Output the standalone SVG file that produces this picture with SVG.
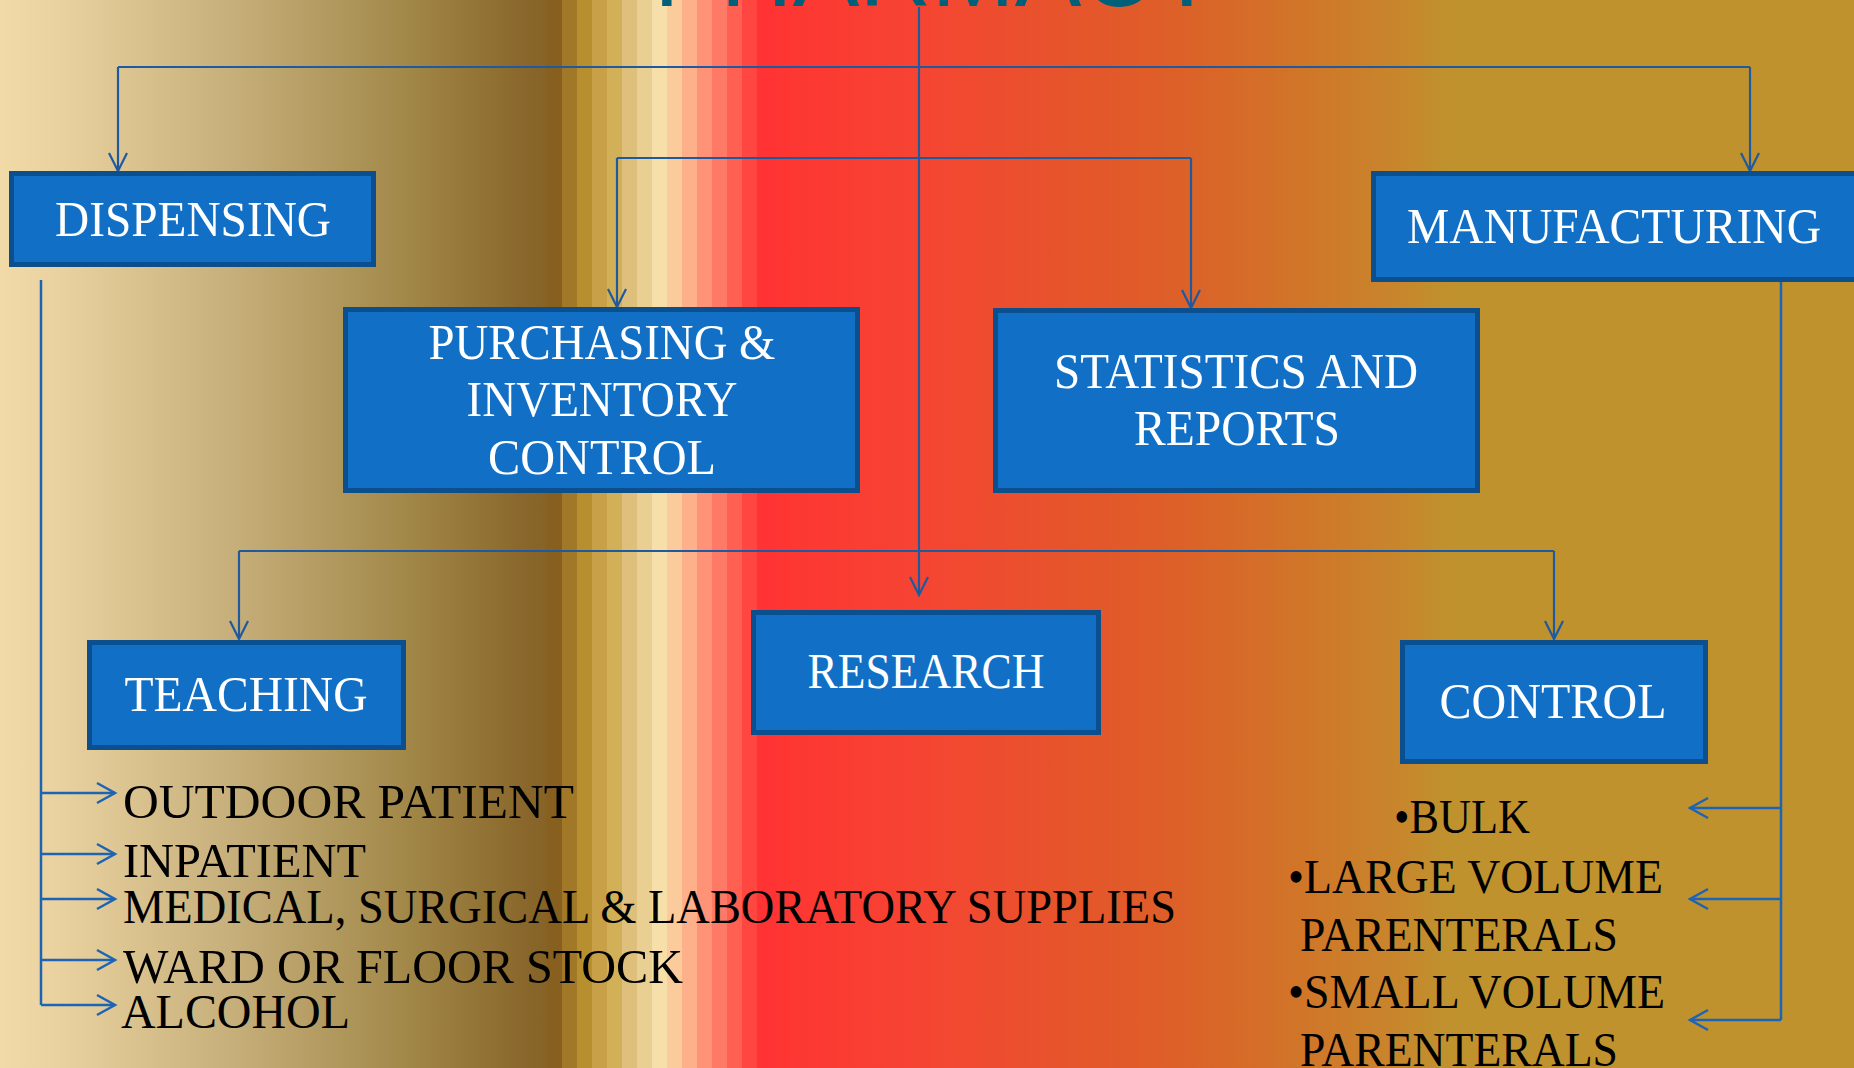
<svg xmlns="http://www.w3.org/2000/svg" width="1854" height="1068" viewBox="0 0 1854 1068">
<defs>
<linearGradient id="bg" gradientUnits="userSpaceOnUse" x1="0" y1="0" x2="1854" y2="0">
<stop offset="0" stop-color="#F2DAA8"/>
<stop offset="0.0318" stop-color="#EAD2A0"/>
<stop offset="0.1273" stop-color="#C6AE7A"/>
<stop offset="0.2233" stop-color="#A08646"/>
<stop offset="0.2869" stop-color="#88652A"/>
<stop offset="0.3031" stop-color="#846020"/>
<stop offset="0.4083" stop-color="#FF3333"/>
<stop offset="0.5" stop-color="#F54532"/>
<stop offset="0.5636" stop-color="#E8522C"/>
<stop offset="0.6278" stop-color="#DE5E28"/>
<stop offset="0.6915" stop-color="#D27228"/>
<stop offset="0.7551" stop-color="#C8862C"/>
<stop offset="0.7805" stop-color="#BF922E"/>
<stop offset="1" stop-color="#BF922E"/>
</linearGradient>
<marker id="ah" markerUnits="userSpaceOnUse" markerWidth="24" markerHeight="24" viewBox="-20 -12 24 24" refX="0" refY="0" orient="auto">
<path d="M-18,-9 L0,0 L-18,9" fill="none" stroke="#1F5A9E" stroke-width="2.2"/>
</marker>
<marker id="ah2" markerUnits="userSpaceOnUse" markerWidth="26" markerHeight="26" viewBox="-21 -13 26 26" refX="0" refY="0" orient="auto">
<path d="M-18,-10 L0,0 L-18,10" fill="none" stroke="#1E64B4" stroke-width="2.5"/>
</marker>
</defs>
<style>
.box{fill:#1170C6;stroke:#0B4F8F;stroke-width:5}
.bt{font-family:"Liberation Serif","Times New Roman",serif;font-size:50px;fill:#FFFFFF;text-anchor:middle}
.lt{font-family:"Liberation Serif","Times New Roman",serif;font-size:48px;fill:#000000}
.c{fill:none;stroke:#1F5A9E;stroke-width:2.2}
.c2{fill:none;stroke:#1E64B4;stroke-width:2.5}
</style>
<g id="background">
<rect x="0" y="0" width="1854" height="1068" fill="url(#bg)"/>
<rect x="547" y="0" width="15" height="1068" fill="#876020"/>
<rect x="562" y="0" width="15" height="1068" fill="#A07828"/>
<rect x="577" y="0" width="15" height="1068" fill="#B88F2E"/>
<rect x="592" y="0" width="15" height="1068" fill="#C8A048"/>
<rect x="607" y="0" width="15" height="1068" fill="#D2B058"/>
<rect x="622" y="0" width="15" height="1068" fill="#DEC07C"/>
<rect x="637" y="0" width="15" height="1068" fill="#EACF92"/>
<rect x="652" y="0" width="15" height="1068" fill="#F6DFA8"/>
<rect x="667" y="0" width="15" height="1068" fill="#FBCB9C"/>
<rect x="682" y="0" width="15" height="1068" fill="#FDB08A"/>
<rect x="697" y="0" width="15" height="1068" fill="#FF9377"/>
<rect x="712" y="0" width="15" height="1068" fill="#FF7A66"/>
<rect x="727" y="0" width="15" height="1068" fill="#FF6052"/>
<rect x="742" y="0" width="15" height="1068" fill="#FF4640"/>
<rect x="757" y="0" width="20" height="1068" fill="#FF3333"/>
</g>
<g id="title">
<text x="654" y="6" font-family="'Liberation Sans',Arial,sans-serif" font-size="100" fill="#00607A" textLength="566" lengthAdjust="spacingAndGlyphs">PHARMACY</text>
</g>
<g id="connectors">
<path class="c" d="M919,7 V595" marker-end="url(#ah)"/>
<path class="c" d="M118,67 H1750"/>
<path class="c" d="M118,67 V171" marker-end="url(#ah)"/>
<path class="c" d="M1750,67 V171" marker-end="url(#ah)"/>
<path class="c" d="M617,158 H1191"/>
<path class="c" d="M617,158 V307" marker-end="url(#ah)"/>
<path class="c" d="M1191,158 V308" marker-end="url(#ah)"/>
<path class="c" d="M239,551 H1554"/>
<path class="c" d="M239,551 V639" marker-end="url(#ah)"/>
<path class="c" d="M1554,551 V639" marker-end="url(#ah)"/>
<path class="c2" d="M41,280 V1005"/>
<path class="c2" d="M41,793 H115" marker-end="url(#ah2)"/>
<path class="c2" d="M41,854 H115" marker-end="url(#ah2)"/>
<path class="c2" d="M41,899 H115" marker-end="url(#ah2)"/>
<path class="c2" d="M41,960 H115" marker-end="url(#ah2)"/>
<path class="c2" d="M41,1005 H115" marker-end="url(#ah2)"/>
<path class="c2" d="M1781,282 V1020"/>
<path class="c2" d="M1781,808 H1690" marker-end="url(#ah2)"/>
<path class="c2" d="M1781,899 H1690" marker-end="url(#ah2)"/>
<path class="c2" d="M1781,1020 H1690" marker-end="url(#ah2)"/>
</g>
<g id="dispensing">
<rect class="box" x="11.5" y="173.5" width="362" height="91"/>
<text class="bt" x="193" y="236" textLength="276" lengthAdjust="spacingAndGlyphs">DISPENSING</text>
</g>
<g id="manufacturing">
<rect class="box" x="1373.5" y="173.5" width="490" height="106"/>
<text class="bt" x="1614" y="243" textLength="414" lengthAdjust="spacingAndGlyphs">MANUFACTURING</text>
</g>
<g id="purchasing">
<rect class="box" x="345.5" y="309.5" width="512" height="181"/>
<text class="bt" x="602" y="359" textLength="347" lengthAdjust="spacingAndGlyphs">PURCHASING &amp;</text>
<text class="bt" x="602" y="416" textLength="271" lengthAdjust="spacingAndGlyphs">INVENTORY</text>
<text class="bt" x="602" y="474" textLength="228" lengthAdjust="spacingAndGlyphs">CONTROL</text>
</g>
<g id="statistics">
<rect class="box" x="995.5" y="310.5" width="482" height="180"/>
<text class="bt" x="1236" y="388" textLength="364" lengthAdjust="spacingAndGlyphs">STATISTICS AND</text>
<text class="bt" x="1237" y="445" textLength="206" lengthAdjust="spacingAndGlyphs">REPORTS</text>
</g>
<g id="teaching">
<rect class="box" x="89.5" y="642.5" width="314" height="105"/>
<text class="bt" x="246" y="711" textLength="243" lengthAdjust="spacingAndGlyphs">TEACHING</text>
</g>
<g id="research">
<rect class="box" x="753.5" y="612.5" width="345" height="120"/>
<text class="bt" x="926" y="688" textLength="237" lengthAdjust="spacingAndGlyphs">RESEARCH</text>
</g>
<g id="control">
<rect class="box" x="1402.5" y="642.5" width="303" height="119"/>
<text class="bt" x="1553" y="718" textLength="227" lengthAdjust="spacingAndGlyphs">CONTROL</text>
</g>
<g id="dispensing-list">
<text class="lt" x="123" y="818" textLength="451" lengthAdjust="spacingAndGlyphs">OUTDOOR PATIENT</text>
<text class="lt" x="123" y="877" textLength="243" lengthAdjust="spacingAndGlyphs">INPATIENT</text>
<text class="lt" x="123" y="923" textLength="1053" lengthAdjust="spacingAndGlyphs">MEDICAL, SURGICAL &amp; LABORATORY SUPPLIES</text>
<text class="lt" x="123" y="983" textLength="560" lengthAdjust="spacingAndGlyphs">WARD OR FLOOR STOCK</text>
<text class="lt" x="121" y="1028" textLength="229" lengthAdjust="spacingAndGlyphs">ALCOHOL</text>
</g>
<g id="manufacturing-list">
<text class="lt" x="1394" y="833" textLength="136" lengthAdjust="spacingAndGlyphs">•BULK</text>
<text class="lt" x="1288" y="893" textLength="375" lengthAdjust="spacingAndGlyphs">•LARGE VOLUME</text>
<text class="lt" x="1300" y="951" textLength="318" lengthAdjust="spacingAndGlyphs">PARENTERALS</text>
<text class="lt" x="1288" y="1008" textLength="377" lengthAdjust="spacingAndGlyphs">•SMALL VOLUME</text>
<text class="lt" x="1300" y="1066" textLength="318" lengthAdjust="spacingAndGlyphs">PARENTERALS</text>
</g>
</svg>
